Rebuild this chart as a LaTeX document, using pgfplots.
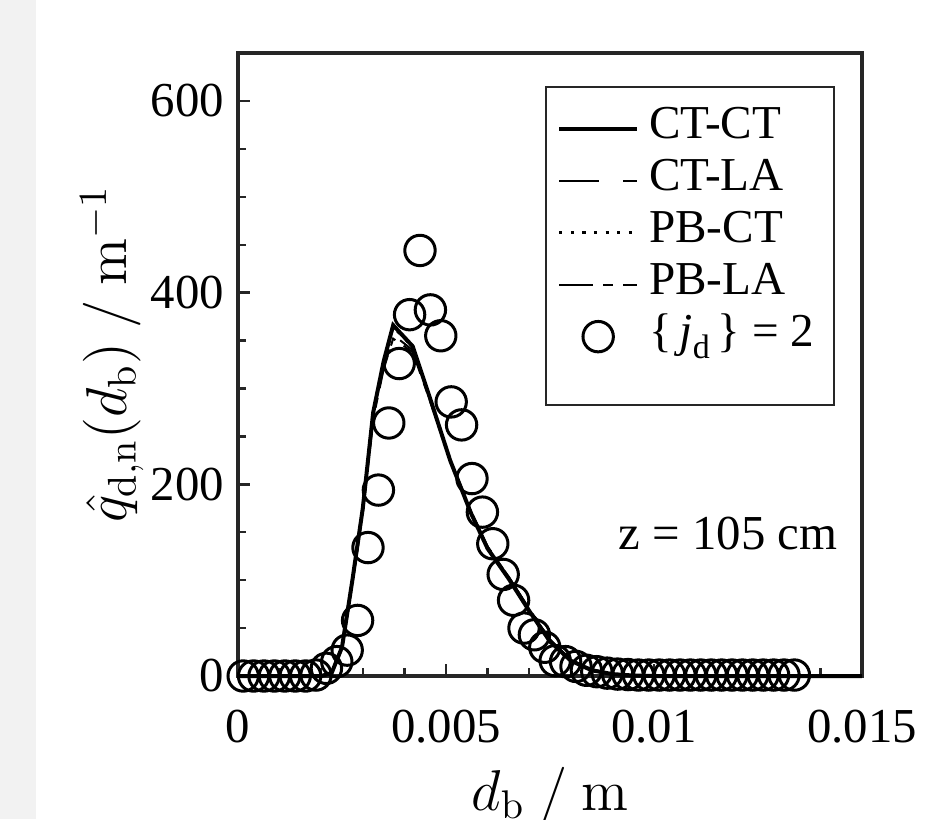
\documentclass[border=0pt]{standalone}
\usepackage[no-math]{fontspec}
\setmainfont{Liberation Serif}
\usepackage{pgfplots}
\usepackage{pgfplotstable}
\pgfplotsset{compat=1.18}
\definecolor{axgray}{RGB}{38,38,38}
\pgfplotsset{
    linelegend/.style={legend image code/.code={\draw[##1] (0pt,0pt) -- (19.5pt,0pt);}},
    circlegend/.style={legend image code/.code={\draw[##1] plot coordinates {(9.75pt,0pt)};}},
}

% measured bins, {j_d} = 2
\pgfplotstableread{
x y
0.000125 0
0.000375 0
0.000625 0
0.000875 0
0.001125 0
0.001375 0
0.001625 0
0.001875 1
0.002125 8
0.002375 15
0.002625 27
0.002875 58
0.003125 134
0.003375 194
0.003625 264
0.003875 326
0.004125 377
0.004375 444
0.004625 382
0.004875 355
0.005125 286
0.005375 262
0.005625 206
0.005875 171
0.006125 138
0.006375 106
0.006625 79
0.006875 50
0.007125 43
0.007375 30
0.007625 16
0.007875 15
0.008125 10
0.008375 6
0.008625 4.5
0.008875 3
0.009125 2
0.009375 1.5
0.009625 1
0.009875 1
0.010125 1
0.010375 1
0.010625 1
0.010875 1
0.011125 1
0.011375 1
0.011625 1
0.011875 1
0.012125 1
0.012375 1
0.012625 1
0.012875 1
0.013125 1
0.013375 1
}\expdata

% model curves
\pgfplotstableread{
x ctct ctla pbct pbla
0      0   0   0   0
0.002  0   0   0   0
0.00225 3  3   3   3
0.0025 30  28  30  28
0.00275 100 96 100 96
0.003  175 170 175 170
0.00325 275 270 274 268
0.0035 328 322 327 320
0.00373 366 356 364 352
0.0042 344 340 343 338
0.0046 292 290 292 289
0.0051 225 226 225 226
0.0056 170 172 170 172
0.006  133 135 133 135
0.0065 102 104 102 104
0.007  68  70  68  70
0.0075 36  38  36  38
0.008  16  17  16  17
0.0085 6   7   6   7
0.009  2   2   2   2
0.0095 0.5 0.5 0.5 0.5
0.01   0   0   0   0
0.015  0   0   0   0
}\modeldata

\begin{document}
\begin{tikzpicture}
\path[use as bounding box] (-59.5pt,-35.75pt) rectangle (171.75pt,169pt);
\fill[black!5] (-59.5pt,-35.75pt) rectangle (-50.5pt,169pt);
\begin{axis}[
    at={(0pt,0pt)}, anchor=south west,
    scale only axis, width=156pt, height=155.75pt,
    xmin=0, xmax=0.015, ymin=0, ymax=650,
    clip=false,
    scaled x ticks=false,
    xtick={0,0.005,0.01,0.015},
    xticklabels={0,0.005,0.01,0.015},
    minor xtick={0.001,0.002,0.003,0.004,0.006,0.007,0.008,0.009,0.011,0.012,0.013,0.014},
    ytick={0,200,400,600},
    minor ytick={50,100,150,250,300,350,450,500,550,650},
    tick pos=left, tick align=inside,
    major tick length=3pt, minor tick length=2pt,
    axis line style={draw=axgray, line width=1.1pt},
    every tick/.style={axgray, line width=0.6pt},
    /pgf/number format/assume math mode=true,
    ticklabel style={font=\fontsize{12.2}{14}\selectfont},
    xticklabel style={yshift=-5pt},
    xlabel={$d_{\mathrm{b}}\ /\ \mathrm{m}$},
    xlabel style={at={(axis description cs:0.5,0)}, anchor=base, yshift=-33.5pt,
        font=\fontsize{14}{16}\selectfont},
    ylabel={$\hat{q}_{\mathrm{d,n}}(d_{\mathrm{b}})\ /\ \mathrm{m}^{-1}$},
    ylabel style={at={(axis description cs:-0.178,0.517)}, anchor=base,
        font=\fontsize{14}{16}\selectfont},
    legend style={at={(0.957,0.947)}, anchor=north east,
        draw=axgray, line width=0.5pt, fill=white,
        font=\fontsize{11.8}{14}\selectfont,
        inner xsep=2.75pt, inner ysep=3.9pt,
        nodes={inner sep=1pt, text height=8pt, text depth=3pt},
        /tikz/every odd column/.style={column sep=1.5pt}},
    legend cell align=left,
]
\addplot[black, line width=1pt, linelegend] table[x=x, y=ctct] {\modeldata};
\addlegendentry{CT-CT}
\addplot[black, line width=0.5pt, dash pattern=on 10pt off 6pt, linelegend] table[x=x, y=ctla] {\modeldata};
\addlegendentry{CT-LA}
\addplot[black, line width=0.6pt, dash pattern=on 0.8pt off 2.1pt, linelegend] table[x=x, y=pbct] {\modeldata};
\addlegendentry{PB-CT}
\addplot[black, line width=0.5pt, dash pattern=on 8.5pt off 2.5pt on 2.5pt off 2.5pt, linelegend] table[x=x, y=pbla] {\modeldata};
\addlegendentry{PB-LA}
\addplot[black, only marks, mark=o, mark size=3.8pt, mark options={line width=0.75pt}, circlegend]
    table[x=x, y=y] {\expdata};
\addlegendentry{\{\,\textit{j}\raisebox{-0.55ex}{\fontsize{8.5}{9}\selectfont d}\,\} = 2\hspace*{1.25pt}}
\addlegendimage{empty legend}
\addlegendentry[text height=0pt, text depth=4.7pt]{}
\node[font=\fontsize{12.2}{14}\selectfont] at (axis cs:0.01178,149) {z = 105 cm};
\end{axis}
\end{tikzpicture}
\end{document}
